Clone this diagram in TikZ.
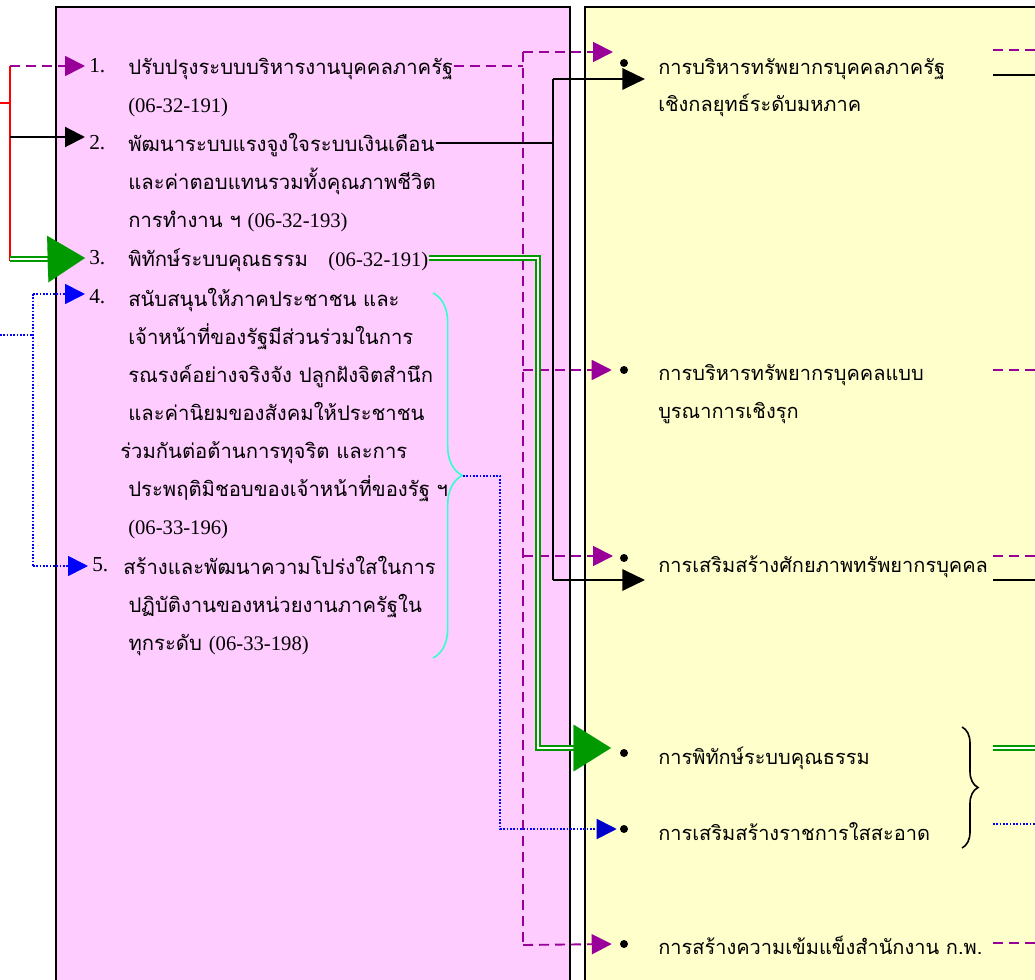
\documentclass[tikz,border=0pt]{standalone}
\usepackage{fontspec}
\newfontfamily\thaifont[Script=Thai]{Loma}
\newfontfamily\latfont{Liberation Serif}
\usetikzlibrary{arrows.meta,decorations.pathreplacing,calc}
\definecolor{boxpink}{HTML}{FFCCFF}
\definecolor{boxyellow}{HTML}{FFFFCC}
\definecolor{linkpurple}{HTML}{990099}
\definecolor{linkgreen}{HTML}{009900}
\definecolor{bracecyan}{HTML}{33FFCC}
\definecolor{darkblue}{HTML}{0000CC}
\newcommand{\code}[1]{{\latfont\fontsize{15.5}{28.5}\selectfont #1}}
\tikzset{
  txt/.style={inner sep=0pt, anchor=base west, align=left,
    font=\thaifont\fontsize{15.2}{28.5}\selectfont},
  rtxt/.style={txt, font=\thaifont\fontsize{15}{28}\selectfont},
  num/.style={inner xsep=3pt, inner ysep=0pt, anchor=west,
    font=\latfont\fontsize{16}{16}\selectfont},
  bullet/.style={circle, fill=black, inner sep=0pt, minimum size=6pt},
  purplelink/.style={linkpurple, line width=1.4pt, dash pattern=on 7.5pt off 4.5pt},
  blacklink/.style={black, line width=1.6pt},
  greenlink/.style={linkgreen, line width=1.3pt, double=white, double distance=1.3pt},
  bluelink/.style={blue, line width=1.3pt, dash pattern=on 1.2pt off 1.3pt},
  smalltip/.style={-{Triangle[length=15pt,width=15pt]}},
  bigtip/.style={-{Triangle[length=28pt,width=35pt]}}
}
\begin{document}
\begin{tikzpicture}[x=0.75pt,y=-0.75pt]
  \useasboundingbox (0,0) rectangle (1035,980);
  \clip (0,0) rectangle (1035,980);

  %%%%% panels
  \draw[fill=boxpink, line width=1.5pt] (56,7) rectangle (570,1000);
  \draw[fill=boxyellow, line width=1.5pt] (585,7) rectangle (1045,1000);

  %%%%% left column (base = last line)
  \node[num] (n1) at (85,66) {1.};
  \node[txt] (t1) at (128,113) {ปรับปรุงระบบบริหารงานบุคคลภาครัฐ\\\code{(06-32-191)}};
  \node[num] (n2) at (85,143) {2.};
  \node[txt] (t2) at (128,228) {พัฒนาระบบแรงจูงใจระบบเงินเดือน\\และค่าตอบแทนรวมทั้งคุณภาพชีวิต\\การทำงาน ฯ \code{(06-32-193)}};
  \node[num] (n3) at (85,258) {3.};
  \node[txt] (t3) at (128,267) {พิทักษ์ระบบคุณธรรม \ \ \code{(06-32-191)}};
  \node[num] (n4) at (85,297) {4.};
  \node[txt] (t4) at (128,534) {สนับสนุนให้ภาคประชาชน และ\\เจ้าหน้าที่ของรัฐมีส่วนร่วมในการ\\รณรงค์อย่างจริงจัง ปลูกฝังจิตสำนึก\\และค่านิยมของสังคมให้ประชาชน\\\hspace*{-6pt}ร่วมกันต่อต้านการทุจริต และการ\\ประพฤติมิชอบของเจ้าหน้าที่ของรัฐ ฯ\\\code{(06-33-196)}};
  \node[num] (n5) at (88,565) {5.};
  \node[txt] (t5) at (123,650) {สร้างและพัฒนาความโปร่งใสในการ\\\hspace*{4pt}ปฏิบัติงานของหน่วยงานภาครัฐใน\\\hspace*{4pt}ทุกระดับ \code{(06-33-198)}};

  %%%%% right column
  \node[bullet] (b1) at (624,63) {};
  \node[rtxt] (r1) at (658,112) {การบริหารทรัพยากรบุคคลภาครัฐ\\เชิงกลยุทธ์ระดับมหภาค};
  \node[bullet] (b2) at (624,370) {};
  \node[rtxt] (r2) at (658,418) {การบริหารทรัพยากรบุคคลแบบ\\บูรณาการเชิงรุก};
  \node[bullet] (b3) at (624,558) {};
  \node[rtxt] (r3) at (658,572) {การเสริมสร้างศักยภาพทรัพยากรบุคคล};
  \node[bullet] (b4) at (624,753) {};
  \node[rtxt] (r4) at (658,764) {การพิทักษ์ระบบคุณธรรม};
  \node[bullet] (b5) at (624,829) {};
  \node[rtxt] (r5) at (658,840) {การเสริมสร้างราชการใสสะอาด};
  \node[bullet] (b6) at (624,944) {};
  \node[rtxt] (r6) at (658,954) {การสร้างความเข้มแข็งสำนักงาน ก.พ.};

  %%%%% feed on the left
  \coordinate (redtop) at (10,66);
  \coordinate (redbot) at (10,261);
  \coordinate (redin) at (0,103);
  \draw[red, line width=1.2pt] (redtop) -- (redbot);
  \draw[red, line width=1.2pt] (redin) -- (redin -| redtop);
  \draw[purplelink, smalltip] (redtop) -- (n1.west);
  \draw[blacklink, smalltip] (10,137) -- (n2.west |- 0,137);
  \draw[greenlink] (10,259) -- (52,259);
  \draw[linkgreen, line width=0.1pt, bigtip] (50,259) -- (n3.west);
  \coordinate (bluetop) at (33,294);
  \coordinate (bluebot) at (33,566);
  \coordinate (bluein) at (0,335);
  \draw[bluelink] (bluetop) -- (bluebot);
  \draw[bluelink] (bluein) -- (bluein -| bluetop);
  \draw[bluelink, smalltip] (bluetop) -- (n4.west |- bluetop);
  \draw[bluelink, smalltip] (bluebot) -- (n5.west |- bluebot);

  %%%%% purple trunk
  \coordinate (ptop) at (523,52);
  \coordinate (pbot) at (523,945);
  \draw[purplelink] (t1.east |- n1.west) -- (ptop |- n1.west);
  \draw[purplelink] (ptop) -- (pbot);
  \draw[purplelink, smalltip] (ptop) -- (613,52);
  \draw[purplelink, smalltip] (ptop |- b2) -- ($(b2.west)+(-8,0)$);
  \draw[purplelink, smalltip] (523,556) -- (613,556);
  \draw[purplelink, smalltip] (pbot) -- ($(b6.west)+(-8,0)$);

  %%%%% black trunk
  \coordinate (ktop) at (553,79);
  \coordinate (kbot) at (553,580);
  \draw[blacklink] (t2.east |- n2.west) -- (ktop |- n2.west);
  \draw[blacklink] (ktop) -- (kbot);
  \draw[blacklink, -{Triangle[length=17pt,width=16pt]}] (ktop) -- (645,79);
  \draw[blacklink, -{Triangle[length=17pt,width=16pt]}] (kbot) -- (645,580);

  %%%%% green trunk
  \coordinate (gbend) at (538,748);
  \draw[greenlink] (t3.east |- n3.west) -- (gbend |- n3.west) -- (gbend) -- (576,748);
  \draw[linkgreen, line width=0.1pt, bigtip] (574,748) -- (611,748);

  %%%%% braces
  \draw[bracecyan, line width=1.2pt, decorate, decoration={brace, amplitude=22pt}]
    (433,293) -- (433,658);
  \coordinate (ctip) at (463,476);
  \coordinate (cbend) at (500,476);
  \draw[bluelink] (ctip) -- (cbend) -- (cbend |- b5) -- (600,829);
  \draw[darkblue, line width=1.3pt, dash pattern=on 1.2pt off 1.3pt, smalltip] (600,829) -- ($(b5.west)+(-3,0)$);
  \draw[black, line width=1.2pt, decorate, decoration={brace, amplitude=12pt}]
    (962,727) -- (962,848);

  %%%%% outputs on the right
  \coordinate (o1) at (993,50);
  \coordinate (o2) at (993,75);
  \coordinate (o3) at (993,370);
  \coordinate (o4) at (993,556);
  \coordinate (o5) at (993,580);
  \coordinate (o6) at (993,748);
  \coordinate (o7) at (993,824);
  \coordinate (o8) at (993,943);
  \draw[purplelink] (o1) -- ++(60,0);
  \draw[blacklink] (o2) -- ++(60,0);
  \draw[purplelink] (o3) -- ++(60,0);
  \draw[purplelink] (o4) -- ++(60,0);
  \draw[blacklink] (o5) -- ++(60,0);
  \draw[greenlink] (o6) -- ++(60,0);
  \draw[bluelink] (o7) -- ++(60,0);
  \draw[purplelink] (o8) -- ++(60,0);
\end{tikzpicture}
\end{document}
